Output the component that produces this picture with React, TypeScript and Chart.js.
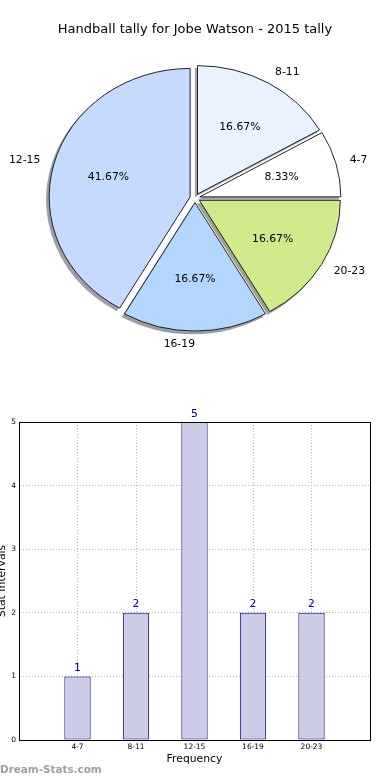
import React, { useEffect, useRef } from 'react';
import { Chart, registerables, PieController } from 'chart.js';

// ---- data ----
const categories = ['4-7', '8-11', '12-15', '16-19', '20-23'];
const counts = [1, 2, 5, 2, 2];
const pieColors = ['#ffffff', '#eaf2ff', '#c6d9ff', '#b3d6ff', '#d0eb8c'];
const titleText = 'Handball tally for Jobe Watson - 2015 tally';
const xTitle = 'Frequency';
const yTitle = 'Stat Intervals';
const watermark = 'Dream-Stats.com';

// ---- style ----
const FONT = "'DejaVu Sans', sans-serif";
const SY = 0.911; // vertical squash of the pie (ellipse)
const EXPLODE = 5;
const SHADOW_DX = -2.6;
const SHADOW_DY = 2.8;

const total = counts.reduce((a, b) => a + b, 0);

function hexToRgb(h: string) {
  const n = parseInt(h.slice(1), 16);
  return [(n >> 16) & 255, (n >> 8) & 255, n & 255];
}

// Pie controller that draws exploded wedges with a drop shadow, squashed into an ellipse
class ExplodedPieController extends (PieController as any) {
  static id = 'explodedPie';
  draw() {
    const chart = (this as any).chart;
    const ctx = chart.ctx;
    const meta = (this as any)._cachedMeta;
    const els = meta.data || [];
    if (!els.length) return;
    const cx = els[0].x;
    const cy = els[0].y;
    const colors = chart.data.datasets[meta.index].backgroundColor;
    ctx.save();
    ctx.translate(cx, cy);
    ctx.scale(1, SY);
    ctx.translate(-cx, -cy);
    // shadows first (behind all wedges)
    els.forEach((el: any, i: number) => {
      const { x, y, startAngle, endAngle, outerRadius } = el;
      const mid = (startAngle + endAngle) / 2;
      const ox = x + Math.cos(mid) * EXPLODE + SHADOW_DX;
      const oy = y + Math.sin(mid) * EXPLODE + SHADOW_DY / SY;
      const col = hexToRgb(colors[i]);
      ctx.fillStyle = `rgba(${Math.round(col[0] * 0.3)},${Math.round(col[1] * 0.3)},${Math.round(col[2] * 0.3)},0.5)`;
      ctx.beginPath();
      ctx.moveTo(ox, oy);
      ctx.arc(ox, oy, outerRadius + 0.5, startAngle, endAngle);
      ctx.closePath();
      ctx.fill();
    });
    // wedges
    els.forEach((el: any) => {
      const mid = (el.startAngle + el.endAngle) / 2;
      ctx.save();
      ctx.translate(Math.cos(mid) * EXPLODE, Math.sin(mid) * EXPLODE);
      el.draw(ctx, chart.chartArea);
      ctx.restore();
    });
    ctx.restore();
  }
}

Chart.register(...registerables, ExplodedPieController as any);

const pieLabelsPlugin = {
  id: 'pieLabels',
  afterDatasetsDraw(chart: any) {
    const ctx = chart.ctx;
    const meta = chart.getDatasetMeta(0);
    const ds = chart.data.datasets[0];
    ctx.save();
    ctx.fillStyle = '#000';
    ctx.font = `10.8px ${FONT}`;
    ctx.textBaseline = 'middle';
    meta.data.forEach((el: any, i: number) => {
      const { x, y, startAngle, endAngle, outerRadius } = el;
      const mid = (startAngle + endAngle) / 2;
      const c = Math.cos(mid);
      const s = Math.sin(mid);
      const cx = x + c * EXPLODE;
      const cy = y + s * EXPLODE * SY;
      const R = outerRadius;
      const pct = ((ds.data[i] / total) * 100).toFixed(2) + '%';
      ctx.textAlign = 'center';
      ctx.fillText(pct, cx + 0.6 * R * c, cy + 0.6 * R * SY * s);
      ctx.textAlign = c > 0.001 ? 'left' : 'right';
      ctx.fillText(chart.data.labels[i], cx + 1.1 * R * c, cy + 1.1 * R * SY * s);
    });
    ctx.restore();
  },
};

const barDecor = {
  id: 'barDecor',
  afterDraw(chart: any) {
    const ctx = chart.ctx;
    const { left, top, right, bottom } = chart.chartArea;
    ctx.save();
    ctx.strokeStyle = '#000';
    ctx.lineWidth = 1;
    ctx.strokeRect(left + 0.5, top + 0.5, right - left, bottom - top);
    const meta = chart.getDatasetMeta(0);
    ctx.fillStyle = '#000080';
    ctx.font = `10.8px ${FONT}`;
    ctx.textAlign = 'center';
    ctx.textBaseline = 'alphabetic';
    meta.data.forEach((el: any, i: number) => {
      ctx.fillText(String(counts[i]), el.x, el.y - 5.5);
    });
    ctx.fillStyle = '#a0a0a0';
    ctx.font = `bold 10.4px ${FONT}`;
    ctx.textAlign = 'left';
    ctx.fillText(watermark, 0, 372.5);
    ctx.restore();
  },
};

export default function App() {
  const pieRef = useRef<HTMLCanvasElement | null>(null);
  const barRef = useRef<HTMLCanvasElement | null>(null);

  useEffect(() => {
    const pieLabels = [...categories].reverse();
    const pieValues = [...counts].reverse();
    const pieFill = [...pieColors].reverse();

    const pie = new Chart(pieRef.current as HTMLCanvasElement, {
      type: 'explodedPie' as any,
      data: {
        labels: pieLabels,
        datasets: [
          {
            data: pieValues,
            backgroundColor: pieFill,
            borderColor: '#1a1a1a',
            borderWidth: 1,
            clip: false,
            offset: 0,
            hoverOffset: 0,
          } as any,
        ],
      },
      options: {
        responsive: false,
        animation: false,
        events: [],
        rotation: 90,
        radius: 141,
        layout: { padding: { top: 0, left: 0, right: 0, bottom: 40.9 } },
        plugins: {
          legend: { display: false },
          tooltip: { enabled: false },
          title: {
            display: true,
            text: titleText,
            color: '#000',
            font: { family: FONT, size: 13, weight: 'normal' },
            padding: { top: 21.4, bottom: 0 },
          },
        },
      } as any,
      plugins: [pieLabelsPlugin],
    });

    const gridOpts = { color: '#b4b4b4', drawTicks: false, offset: false };
    const borderOpts = { dash: [1, 2], color: '#000', width: 1 };

    const bar = new Chart(barRef.current as HTMLCanvasElement, {
      type: 'bar',
      data: {
        datasets: [
          {
            data: categories.map((c, i) => ({ x: i, y: counts[i] })),
            backgroundColor: '#ccccE6',
            borderColor: '#000080',
            borderWidth: 1,
            borderSkipped: false,
            barPercentage: 0.45,
            categoryPercentage: 1,
          } as any,
        ],
      },
      options: {
        responsive: false,
        animation: false,
        events: [],
        layout: { padding: { top: 22, right: 20, left: 0, bottom: 0 } },
        plugins: { legend: { display: false }, tooltip: { enabled: false } },
        scales: {
          x: {
            type: 'linear',
            min: -1,
            max: 5,
            offset: false,
            z: 1,
            ticks: {
              stepSize: 1,
              autoSkip: false,
              maxRotation: 0,
              padding: 3,
              color: '#000',
              font: { family: FONT, size: 7.5 },
              callback: (v: any) => categories[v] ?? '',
            },
            grid: gridOpts,
            border: borderOpts,
            title: {
              display: true,
              text: xTitle,
              color: '#000',
              font: { family: FONT, size: 10.8 },
              padding: { top: 0, bottom: 14 },
            },
            afterFit: (s: any) => {
              s.height = 40;
            },
          },
          y: {
            type: 'linear',
            min: 0,
            max: 5,
            z: 1,
            ticks: {
              stepSize: 1,
              padding: 3,
              color: '#000',
              font: { family: FONT, size: 7.5 },
            },
            grid: gridOpts,
            border: borderOpts,
            title: {
              display: true,
              text: yTitle,
              color: '#000',
              font: { family: FONT, size: 10.8 },
              padding: { top: -4, bottom: 0 },
            },
            afterFit: (s: any) => {
              s.width = 19;
            },
          },
        },
      } as any,
      plugins: [barDecor],
    });

    return () => {
      pie.destroy();
      bar.destroy();
    };
  }, []);

  return (
    <div style={{ position: 'absolute', left: 0, top: 0, width: 390, height: 780, background: '#fff' }}>
      <canvas ref={pieRef} width={390} height={400} style={{ display: 'block', width: 390, height: 400 }} />
      <canvas ref={barRef} width={390} height={380} style={{ display: 'block', width: 390, height: 380 }} />
    </div>
  );
}
